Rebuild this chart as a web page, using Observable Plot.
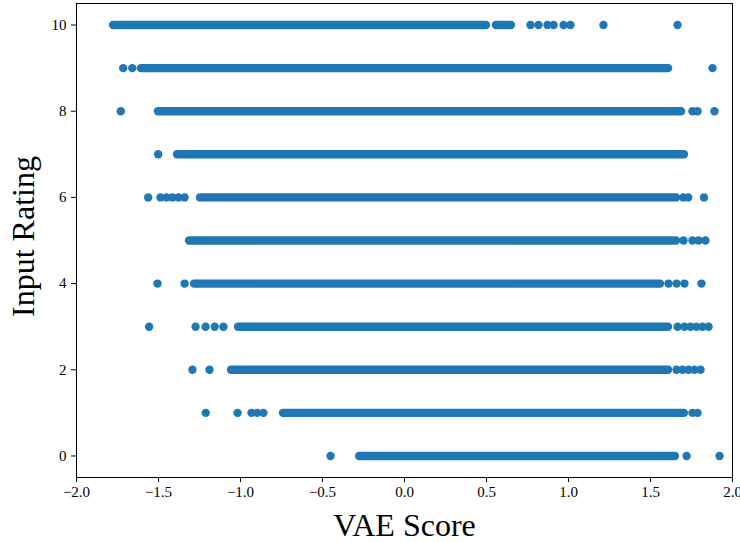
<!DOCTYPE html>
<html>
<head>
<meta charset="utf-8">
<script src="https://cdn.jsdelivr.net/npm/d3@7"></script>
<script src="https://cdn.jsdelivr.net/npm/@observablehq/plot@0.6"></script>
<style>
  html, body { margin: 0; padding: 0; background: #fff; }
  #chart svg, #chart svg text { font-family: "Liberation Serif", "Times New Roman", serif !important; }
</style>
</head>
<body>
<div id="chart"></div>
<script>
// Dense runs of points (rating, start score, end score)
const segRating = [10, 10, 9, 8, 7, 6, 5, 4, 3, 2, 1, 0];
const segStart  = [-1.774, 0.56, -1.604, -1.50, -1.384, -1.244, -1.311, -1.28, -1.012, -1.055, -0.738, -0.274];
const segEnd    = [0.50, 0.652, 1.61, 1.689, 1.707, 1.659, 1.659, 1.561, 1.61, 1.61, 1.707, 1.652];

// Individual (sparse) points per rating
const dots10 = [0.768, 0.817, 0.872, 0.909, 0.970, 1.012, 1.213, 1.665];
const dots9  = [-1.715, -1.66, 1.878];
const dots8  = [-1.73, 1.756, 1.787, 1.89];
const dots7  = [-1.502];
const dots6  = [-1.563, -1.488, -1.451, -1.415, -1.378, -1.341, 1.70, 1.73, 1.826];
const dots5  = [1.701, 1.756, 1.793, 1.835];
const dots4  = [-1.506, -1.341, 1.61, 1.659, 1.707, 1.811];
const dots3  = [-1.557, -1.274, -1.213, -1.157, -1.104, 1.665, 1.707, 1.744, 1.78, 1.817, 1.854];
const dots2  = [-1.293, -1.189, 1.659, 1.695, 1.732, 1.768, 1.805];
const dots1  = [-1.212, -1.018, -0.933, -0.898, -0.86, 1.756, 1.787];
const dots0  = [-0.451, 1.72, 1.921];

const xTicks = [-2.0, -1.5, -1.0, -0.5, 0.0, 0.5, 1.0, 1.5, 2.0];
const yTicks = [0, 2, 4, 6, 8, 10];

const segs = segRating.map((r, i) => ({rating: r, x1: segStart[i], x2: segEnd[i]}));
const dotLists = {10: dots10, 9: dots9, 8: dots8, 7: dots7, 6: dots6, 5: dots5, 4: dots4, 3: dots3, 2: dots2, 1: dots1, 0: dots0};
const points = [];
for (const [r, list] of Object.entries(dotLists)) for (const x of list) points.push({rating: +r, score: x});

const color = "#1f77b4";
const R = 4.2;

const chart = Plot.plot({
  width: 740,
  height: 542,
  marginLeft: 76,
  marginRight: 8,
  marginTop: 3,
  marginBottom: 65,
  style: {"font-family": "'Liberation Serif', 'Times New Roman', serif", background: "#fff", color: "#000"},
  x: {domain: [-2, 2]},
  y: {domain: [-0.5, 10.5]},
  marks: [
    Plot.ruleY(segs, {y: "rating", x1: "x1", x2: "x2", stroke: color, strokeWidth: 2 * R, strokeLinecap: "round"}),
    Plot.dot(points, {x: "score", y: "rating", r: R, fill: color, stroke: null}),
    Plot.frame({stroke: "#000", strokeWidth: 1}),
    Plot.axisX({ticks: xTicks, tickFormat: d3.format(".1f"), tickSize: 5, tickPadding: 4, fontSize: 15, label: null}),
    Plot.axisY({ticks: yTicks, tickSize: 5, tickPadding: 5, fontSize: 15, label: null}),
    Plot.text(["VAE Score"], {frameAnchor: "bottom", dy: 48, fontSize: 32, textAnchor: "middle", lineAnchor: "middle"}),
    Plot.text(["Input Rating"], {frameAnchor: "left", dx: -53, dy: -4, rotate: -90, fontSize: 32, textAnchor: "middle", lineAnchor: "middle"})
  ]
});
document.getElementById("chart").appendChild(chart);
</script>
</body>
</html>
